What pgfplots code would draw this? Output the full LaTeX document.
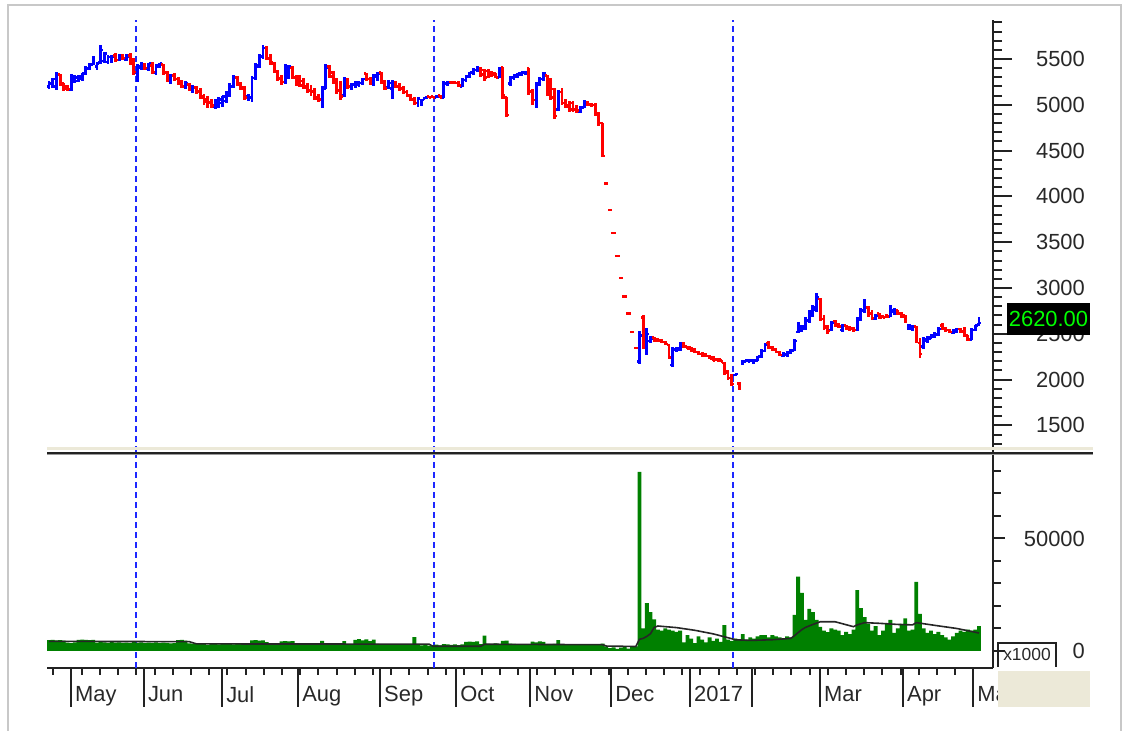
\documentclass[border=0pt]{standalone}
\usepackage{fontspec}
\setmainfont{Liberation Sans}
\usepackage{pgfplots}
\usepackage{pgfplotstable}
\pgfplotsset{compat=1.18}

\definecolor{upcol}{RGB}{0,0,255}
\definecolor{dncol}{RGB}{255,0,0}
\definecolor{volcol}{RGB}{0,128,0}
\definecolor{vline}{RGB}{30,40,255}
\definecolor{axcol}{RGB}{34,34,34}
\definecolor{labcol}{RGB}{40,40,40}
\definecolor{beige}{RGB}{236,233,216}
\definecolor{framecol}{RGB}{200,200,200}
\definecolor{tagcol}{RGB}{0,255,0}

% daily bars: open high low close volume (row index = trading day)
\pgfplotstableread{
o h l c v
5200 5260 5170 5240 4800
5230 5290 5180 5280 4900
5200 5360 5160 5330 4700
5330 5340 5200 5220 4800
5230 5240 5150 5170 4600
5200 5220 5150 5170 3700
5160 5340 5150 5320 3500
5250 5330 5240 5300 3800
5260 5330 5250 5310 4900
5280 5350 5260 5340 5000
5340 5420 5330 5400 4900
5390 5460 5380 5440 4800
5440 5530 5430 5500 4900
5420 5470 5380 5450 3700
5460 5650 5450 5600 3900
5480 5580 5460 5560 3800
5470 5540 5450 5520 3600
5480 5540 5460 5530 3900
5540 5570 5470 5490 3700
5490 5560 5480 5540 3800
5530 5560 5490 5510 3600
5490 5550 5480 5530 3700
5540 5570 5440 5460 3500
5480 5510 5330 5360 3900
5350 5450 5250 5420 3600
5400 5470 5380 5440 3800
5440 5460 5380 5400 3500
5390 5460 5370 5450 3700
5430 5470 5340 5360 3600
5350 5450 5320 5430 3800
5420 5460 5400 5450 3500
5440 5450 5330 5350 3700
5350 5370 5250 5270 3600
5260 5340 5230 5320 3400
5320 5350 5260 5280 3500
5280 5300 5220 5240 4800
5240 5270 5180 5200 4900
5200 5260 5170 5230 4600
5220 5240 5150 5170 3400
5170 5220 5130 5190 3300
5190 5200 5120 5140 3200
5150 5180 5060 5080 3000
5090 5120 5000 5030 3100
5060 5100 4960 5020 2600
5030 5060 4960 4990 3000
4980 5060 4950 5050 3100
5000 5080 4960 5060 2900
5020 5100 4980 5090 3100
5040 5150 5020 5120 3000
5100 5240 5080 5200 3100
5200 5320 5180 5290 2900
5300 5310 5200 5220 3000
5220 5250 5160 5190 3100
5180 5200 5050 5080 3000
5090 5120 5040 5100 3100
5080 5310 5030 5290 4700
5290 5460 5270 5430 4800
5420 5560 5400 5530 4600
5520 5650 5500 5620 4700
5620 5640 5490 5510 3900
5500 5560 5440 5460 3100
5450 5470 5350 5370 3000
5370 5380 5260 5280 3100
5290 5320 5220 5250 4300
5250 5450 5230 5420 4400
5300 5440 5280 5420 4300
5400 5420 5280 5300 4400
5300 5330 5200 5230 3100
5290 5320 5190 5210 2600
5260 5290 5170 5190 3000
5200 5240 5130 5150 3100
5160 5220 5100 5140 2900
5150 5180 5050 5070 3100
5080 5120 5030 5060 3000
5060 5200 4960 5180 4500
5180 5450 5170 5400 3100
5420 5440 5290 5310 3000
5350 5370 5230 5250 2600
5250 5290 5120 5150 3100
5160 5260 5050 5090 3000
5100 5300 5080 5280 4400
5270 5290 5170 5200 3100
5200 5240 5160 5220 3000
5220 5260 5180 5250 4900
5220 5260 5190 5240 5300
5240 5290 5220 5280 4700
5340 5350 5260 5280 5200
5280 5300 5220 5240 4400
5230 5340 5210 5320 5100
5310 5360 5260 5340 3200
5350 5360 5230 5250 3000
5250 5270 5160 5180 3100
5190 5270 5170 5240 2900
5180 5270 5060 5250 3000
5240 5260 5180 5200 3100
5200 5240 5150 5180 2600
5180 5200 5120 5140 3000
5140 5160 5080 5100 3100
5100 5120 5040 5060 2900
5060 5080 5000 5020 6200
5020 5090 4980 5070 3000
5000 5060 4990 5050 2500
5070 5090 5060 5080 2900
5090 5100 5070 5080 2400
5090 5100 5070 5080 2600
5080 5110 5070 5090 2800
5100 5110 5070 5080 2500
5080 5260 5070 5230 3000
5230 5260 5210 5240 2900
5250 5260 5230 5240 2700
5250 5260 5230 5240 2900
5240 5260 5190 5210 2600
5200 5290 5190 5270 2900
5270 5330 5250 5310 4100
5310 5360 5290 5350 4200
5350 5400 5330 5380 4000
5380 5420 5360 5400 4300
5400 5410 5300 5330 3100
5380 5390 5260 5300 6800
5370 5390 5290 5340 3200
5350 5370 5300 5330 3000
5340 5350 5290 5300 3400
5300 5410 5290 5380 3200
5410 5410 5060 5100 4500
5080 5090 4870 4890 4600
5230 5320 5210 5300 3300
5290 5340 5270 5320 3200
5310 5350 5290 5340 3000
5330 5360 5310 5350 3100
5350 5370 5330 5360 2900
5400 5400 5110 5140 3000
5150 5170 5000 5050 4200
5050 5250 4960 5230 3800
5230 5300 5200 5280 4300
5280 5360 5260 5340 4000
5320 5330 5100 5130 3000
5140 5290 5050 5080 2900
5170 5180 4850 4880 3200
4950 5160 4930 5140 4800
5140 5180 5000 5020 3000
5020 5060 4960 4980 2700
4990 5040 4920 4950 2900
5020 5040 4920 4950 2800
4950 5000 4910 4940 3000
4920 4990 4910 4970 2700
4970 5050 4960 5030 3100
5020 5040 4990 5010 2800
5000 5020 4980 5000 2600
5000 5020 4880 4900 2900
4900 4920 4770 4800 3100
4800 4800 4430 4440 3300
4140 4140 4140 4140 1900
3850 3850 3850 3850 1300
3600 3600 3600 3600 1600
3350 3350 3350 3350 900
3110 3110 3110 3110 1500
2910 2910 2910 2910 1800
2720 2720 2720 2720 1100
2520 2520 2520 2520 1700
2345 2345 2345 2345 2000
2200 2530 2170 2480 79600
2680 2700 2330 2380 10000
2280 2560 2270 2500 21300
2420 2480 2400 2450 17300
2460 2470 2410 2430 14000
2440 2450 2410 2420 9500
2430 2440 2400 2410 9000
2410 2420 2380 2390 10000
2380 2390 2220 2240 9500
2160 2360 2140 2330 9000
2330 2360 2300 2340 8500
2330 2410 2310 2390 9000
2400 2410 2340 2360 3800
2360 2370 2330 2340 7000
2350 2360 2300 2320 5500
2320 2340 2290 2300 3500
2300 2310 2270 2280 6500
2280 2300 2250 2270 5000
2270 2290 2250 2260 3800
2260 2270 2220 2230 6000
2240 2260 2200 2210 4500
2220 2240 2200 2210 5500
2220 2230 2190 2200 4000
2180 2190 2050 2080 11500
2090 2110 2000 2020 5000
2030 2060 1930 1950 4500
2050 2060 2050 2060 5500
1960 1970 1890 1910 5000
2170 2210 2160 2200 7500
2200 2220 2190 2210 5000
2200 2220 2190 2210 6000
2190 2220 2170 2210 5500
2210 2260 2200 2250 6500
2250 2330 2240 2310 7000
2310 2400 2300 2380 7000
2400 2420 2330 2350 6000
2350 2370 2310 2330 7000
2330 2340 2290 2300 6500
2300 2310 2260 2270 6000
2260 2300 2250 2280 5500
2270 2310 2250 2300 6500
2290 2330 2280 2320 6000
2320 2440 2310 2420 16000
2520 2630 2510 2600 33000
2540 2600 2520 2580 25800
2560 2680 2540 2650 13800
2640 2760 2620 2740 18700
2700 2820 2680 2790 17300
2760 2950 2740 2900 13800
2880 2890 2640 2660 10700
2660 2700 2540 2570 9000
2580 2600 2500 2530 8400
2540 2640 2530 2620 10000
2640 2650 2570 2590 9500
2600 2620 2560 2580 9000
2540 2610 2520 2590 7000
2590 2600 2540 2560 8500
2560 2580 2530 2550 7500
2560 2570 2520 2540 9500
2540 2680 2530 2660 27100
2660 2780 2640 2760 19000
2750 2880 2730 2780 15000
2790 2800 2680 2700 12000
2720 2760 2650 2670 9000
2660 2720 2650 2700 11000
2720 2730 2660 2680 7000
2690 2710 2670 2680 9000
2700 2720 2670 2690 12000
2690 2820 2680 2760 13800
2740 2780 2700 2760 8000
2760 2760 2700 2720 10000
2720 2740 2670 2690 12000
2700 2710 2620 2640 14500
2560 2610 2540 2590 9000
2560 2600 2530 2580 9500
2580 2590 2400 2420 30700
2400 2450 2240 2280 16500
2360 2460 2330 2440 10000
2420 2480 2400 2460 8000
2450 2500 2440 2480 9000
2470 2520 2450 2500 7500
2490 2570 2480 2550 8500
2590 2620 2540 2560 7000
2560 2570 2520 2540 6000
2540 2550 2510 2520 5000
2510 2550 2500 2540 6500
2530 2560 2510 2550 8000
2550 2560 2510 2520 9000
2530 2570 2460 2480 8500
2480 2490 2420 2440 9500
2440 2560 2430 2540 9000
2540 2600 2530 2590 9500
2600 2680 2590 2620 11100
}\prices

% moving average of volume
\pgfplotstableread{
t m
0 4300
38 4150
40 3150
103 3050
104 2100
117 2100
118 3000
150 2800
151 2200
159 2000
160 5200
161 5600
162 6500
163 7700
164 10500
165 11100
170 10400
175 9200
180 7600
184 5900
186 5000
190 4700
196 5000
201 5600
202 6800
203 8200
204 9500
205 10500
207 11800
209 13000
213 13000
218 10800
219 11600
221 12600
225 12300
230 11800
234 11600
235 12600
240 11400
246 10000
252 8000
}\mavol

\pgfplotsset{
  panel/.style={scale only axis, anchor=south west, width=946bp,
    xmin=-0.54, xmax=255.8,
    axis line style={axcol, line width=2.4bp},
    tick style={axcol, line width=2bp},
    tick label style={font=\fontsize{22}{25}\selectfont, text=labcol},
    /pgf/number format/assume math mode=true,
    /pgf/number format/1000 sep={}},
  hl/.style={draw=none, mark=none, error bars/y dir=both, error bars/y explicit,
    error bars/error mark=none, error bars/error bar style={line width=2.9bp, #1}},
  ot/.style={draw=none, mark=none, error bars/x dir=minus, error bars/x fixed=0.6,
    error bars/error mark=none, error bars/error bar style={line width=2.5bp, #1}},
  ct/.style={draw=none, mark=none, error bars/x dir=plus, error bars/x fixed=0.6,
    error bars/error mark=none, error bars/error bar style={line width=2.5bp, #1}},
  up/.style={restrict expr to domain={\thisrow{c}-\thisrow{o}}{0.5:100000}},
  dn/.style={restrict expr to domain={\thisrow{c}-\thisrow{o}}{-100000:0.5}},
  dline/.style={vline, line width=2.2bp, dash pattern=on 6bp off 4bp},
}

\begin{document}
\begin{tikzpicture}

% window frame
\begin{scope}[x=1bp, y=1bp]
\draw[framecol, line width=2.5bp] (8,0) -- (8,726) -- (1121,726) -- (1121,0);
\end{scope}

% price panel
\begin{axis}[panel, at={(47bp,279bp)}, height=432bp,
  ymin=1210, ymax=5926,
  axis x line=none, axis y line*=right,
  ytick={1500,2000,...,5500}, minor ytick={1300,1400,...,5900},
  tick align=outside, major tick length=19bp, minor tick length=9bp,
  yticklabel style={anchor=east, inner sep=0pt, xshift=73bp}]
\addplot[dline] coordinates {(23.6,1210) (23.6,5926)};
\addplot[dline] coordinates {(104.3,1210) (104.3,5926)};
\addplot[dline] coordinates {(185.4,1210) (185.4,5926)};
\addplot[up, hl=upcol] table[x expr=\coordindex, y expr={(\thisrow{h}+\thisrow{l})/2}, y error expr={(\thisrow{h}-\thisrow{l})/2}] {\prices};
\addplot[up, ot=upcol] table[x expr=\coordindex, y=o] {\prices};
\addplot[up, ct=upcol] table[x expr=\coordindex, y=c] {\prices};
\addplot[dn, hl=dncol] table[x expr=\coordindex, y expr={(\thisrow{h}+\thisrow{l})/2}, y error expr={(\thisrow{h}-\thisrow{l})/2}] {\prices};
\addplot[dn, ot=dncol] table[x expr=\coordindex, y=o] {\prices};
\addplot[dn, ct=dncol] table[x expr=\coordindex, y=c] {\prices};
\end{axis}

% volume panel
\begin{axis}[panel, at={(47bp,63bp)}, height=213bp,
  ymin=-7556, ymax=87111,
  axis x line*=bottom, axis y line=none,
  xtick={5.96,25.7,46.9,67.5,89.7,110.3,130.4,152.3,173.7,190.5,208.9,231.4,250.4},
  xticklabels={May,Jun,Jul,Aug,Sep,Oct,Nov,Dec,2017,,Mar,Apr,May},
  minor xtick={1.1,8.9,13.83,...,255},
  tick align=outside, major tick length=39bp, minor tick length=7bp,
  xticklabel style={anchor=north west, inner sep=0pt, xshift=4bp, yshift=21bp}]
\addplot[dline] coordinates {(23.6,-7556) (23.6,87111)};
\addplot[dline] coordinates {(104.3,-7556) (104.3,87111)};
\addplot[dline] coordinates {(185.4,-7556) (185.4,87111)};
\addplot[ybar, bar width=1.05, bar shift=0pt, fill=volcol, draw=none]
  table[x expr=\coordindex, y=v] {\prices};
\addplot[black!85, line width=1.6bp] table[x=t, y=m] {\mavol};
\end{axis}

% volume scale
\begin{axis}[panel, at={(47bp,63bp)}, height=213bp,
  ymin=-7556, ymax=87111,
  axis x line=none, axis y line*=right,
  ytick={0,50000}, minor ytick={10000,20000,...,80000},
  scaled y ticks=false,
  tick align=outside, major tick length=12bp, minor tick length=8bp,
  yticklabel style={anchor=east, inner sep=0pt, xshift=80bp}]
\end{axis}

\begin{scope}[x=1bp, y=1bp]
% panel separator
\draw[beige, line width=3bp] (47,282) -- (1093,282);
\draw[axcol, line width=2.6bp] (47,278) -- (1093,278);
\draw[black!40, line width=1bp] (47,276) -- (1093,276);

% unit box and corner
\fill[beige] (998,24) rectangle (1090,60);
\draw[axcol, line width=1.3bp] (998,64) -- (998,88) -- (1056,88) -- (1056,64);
\node[font=\fontsize{17.5}{19}\selectfont, text=labcol] at (1027,76) {x1000};

% last price tag
\fill[black] (1007,396) rectangle (1090,428);
\node[font=\fontsize{22}{25}\selectfont, text=tagcol] at (1048.5,412) {2620.00};

\pgfresetboundingbox
\useasboundingbox (0,0) rectangle (1125,731);
\end{scope}
\end{tikzpicture}
\end{document}
